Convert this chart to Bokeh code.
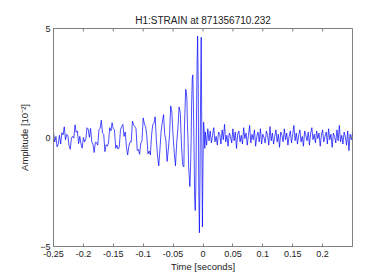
import numpy as np
from bokeh.plotting import figure
from bokeh.models import Range1d, FixedTicker, ColumnDataSource
from bokeh.embed import file_html
from bokeh.resources import INLINE

# strain samples (amplitude in units of the y label)
# early inspiral + noise, every 2 ms starting at -250 ms
amp_early = [
    0.25, -0.20, 0.05, -0.43, -0.29, 0.10, -0.30, 0.22, 0.12, 0.49,
    -0.10, 0.15, 0.08, -0.37, -0.54, -0.02, 0.05, -0.03, 0.58, 0.24,
    0.30, -0.28, 0.05, -0.30, -0.49, 0.00, -0.20, -0.08, 0.45, 0.39,
    0.01, 0.42, -0.20, -0.30, -0.69, -0.22, -0.23, -0.35, 0.35, 0.43,
    0.79, 0.20, 0.15, -0.65, -0.33, -0.40, -0.25, 0.45, 0.30, 0.68,
    0.40, 0.35, -0.50, -0.35, -0.53, -0.45, 0.35, 0.50, 0.60, 0.05,
    0.25, -0.45, -0.80, -0.40, -0.20, -0.20, 0.75, 0.58, 0.50, 0.40,
    -0.60, -0.55, -0.77, -0.25, -0.15, 0.90, 0.62, 0.50, 0.10, -0.75,
    -0.62, -0.80, 0.10, 0.60, 0.65, 0.95, -0.10, -0.85, -1.30, -0.55,
    0.30, 0.70, 1.05, 0.15, -0.15, -1.10, -0.55, 0.10, 1.45, 1.15,
    0.05, -0.70, -1.30, -0.25, 0.40, 1.40, 1.15, -0.35, -1.25, -1.35,
]
# merger, every 1 ms starting at -31 ms
amp_merger = [
    0.53, 1.32, 2.21, 2.09, 1.80, 0.59, -0.17, -1.35, -1.79, -2.25,
    -1.55, -0.39, 1.53, 2.68, 2.87, 1.48, -0.43, -2.69, -3.35, -2.37,
    0.62, 3.20, 4.65, 2.49, -2.64, -4.37, -1.81, 2.01, 4.60, 0.15,
    -4.10, -1.21, 0.70, 0.30, -0.50, 0.25,
]
# post-merger noise, every 2 ms starting at +6 ms
amp_late = [
    -0.35, 0.40, -0.15, 0.30, -0.25, 0.10, 0.45, -0.20, 0.05, -0.35,
    0.25, 0.15, -0.30, 0.35, -0.10, 0.60, -0.20, 0.10, -0.40, 0.20,
    0.05, -0.25, 0.40, -0.15, 0.25, -0.50, 0.15, 0.30, -0.20, 0.10,
    -0.30, 0.45, -0.05, 0.20, -0.35, 0.10, 0.55, -0.25, 0.15, -0.10,
    0.35, -0.40, 0.05, 0.25, -0.20, 0.40, -0.30, 0.15, 0.00, -0.25,
    0.30, 0.10, -0.35, 0.50, -0.15, 0.20, -0.30, 0.05, 0.35, -0.20,
    0.15, -0.45, 0.25, 0.10, -0.20, 0.40, -0.10, 0.20, -0.35, 0.05,
    0.30, -0.25, 0.15, 0.55, -0.15, 0.20, -0.30, 0.10, 0.35, -0.20,
    0.05, -0.40, 0.30, 0.10, -0.15, 0.25, -0.35, 0.20, 0.45, -0.10,
    0.15, -0.25, 0.30, -0.05, 0.20, -0.40, 0.10, 0.35, -0.20, 0.05,
    0.25, -0.30, 0.40, -0.10, 0.15, -0.45, 0.20, 0.05, -0.25, 0.35,
    -0.15, 0.55, -0.20, 0.10, -0.30, 0.25, 0.05, -0.35, 0.30, -0.60,
    0.15, -0.10, 0.20,
]

x_ticks = [-0.25, -0.2, -0.15, -0.1, -0.05, 0.0, 0.05, 0.1, 0.15, 0.2]
x_tick_labels = ["-0.25", "-0.2", "-0.15", "-0.1", "-0.05", "0", "0.05", "0.1", "0.15", "0.2"]
y_ticks = [-5, 0, 5]

X0, X1 = -0.25, 0.25
Y0, Y1 = -5, 5
FW, FH = 299, 218

# sample times (seconds) of the three segments
t_early = (-250 + 2 * np.arange(len(amp_early))) / 1000.0
t_merger = (-31 + np.arange(len(amp_merger))) / 1000.0
t_late = (6 + 2 * np.arange(len(amp_late))) / 1000.0

src = ColumnDataSource(dict(
    t=np.concatenate([t_early, t_merger, t_late]),
    a=np.concatenate([amp_early, amp_merger, amp_late]),
))

FONT = "Liberation Sans"
GRAY = "#808080"
TXT = "#222222"

p = figure(frame_width=FW, frame_height=FH,
           min_border_left=53, min_border_right=14,
           min_border_top=28, min_border_bottom=31,
           x_range=Range1d(X0, X1), y_range=Range1d(Y0, Y1),
           output_backend="svg", toolbar_location=None,
           title="H1:STRAIN at 871356710.232")
p.background_fill_color = "white"
p.border_fill_color = "white"
p.outline_line_color = GRAY
p.grid.visible = False

p.title.align = "center"
p.title.text_font = FONT
p.title.text_font_size = "10px"
p.title.text_font_style = "normal"
p.title.text_color = TXT
p.title.standoff = 5

p.line("t", "a", source=src, line_color="#0000ff", line_width=0.7)

# inward ticks on the top and right edges (mirror of bottom / left ticks)
tick_px = 3
dy = (Y1 - Y0) / FH * tick_px
dx = (X1 - X0) / FW * tick_px
p.segment(x0=x_ticks, y0=[Y1] * len(x_ticks), x1=x_ticks, y1=[Y1 - dy] * len(x_ticks),
          line_color=GRAY, line_width=1)
p.segment(x0=[X1] * len(y_ticks), y0=y_ticks, x1=[X1 - dx] * len(y_ticks), y1=y_ticks,
          line_color=GRAY, line_width=1)

xa = p.xaxis[0]
xa.ticker = FixedTicker(ticks=x_ticks)
xa.major_label_overrides = {t: l for t, l in zip(x_ticks, x_tick_labels)}
xa.axis_label = "Time [seconds]"
xa.major_label_standoff = 4
xa.axis_label_standoff = 1

ya = p.yaxis[0]
ya.ticker = FixedTicker(ticks=y_ticks)
ya.axis_label = "Amplitude [10⁻²]"
ya.major_label_standoff = 3
ya.axis_label_standoff = 7

for ax in (xa, ya):
    ax.axis_line_color = GRAY
    ax.major_tick_line_color = GRAY
    ax.major_tick_in = tick_px
    ax.major_tick_out = 0
    ax.minor_tick_line_color = None
    ax.major_label_text_font = FONT
    ax.major_label_text_font_size = "9px"
    ax.major_label_text_color = TXT
    ax.axis_label_text_font = FONT
    ax.axis_label_text_font_size = "9.5px"
    ax.axis_label_text_font_style = "normal"
    ax.axis_label_text_color = TXT

open("out.html", "w").write(file_html(p, INLINE))
